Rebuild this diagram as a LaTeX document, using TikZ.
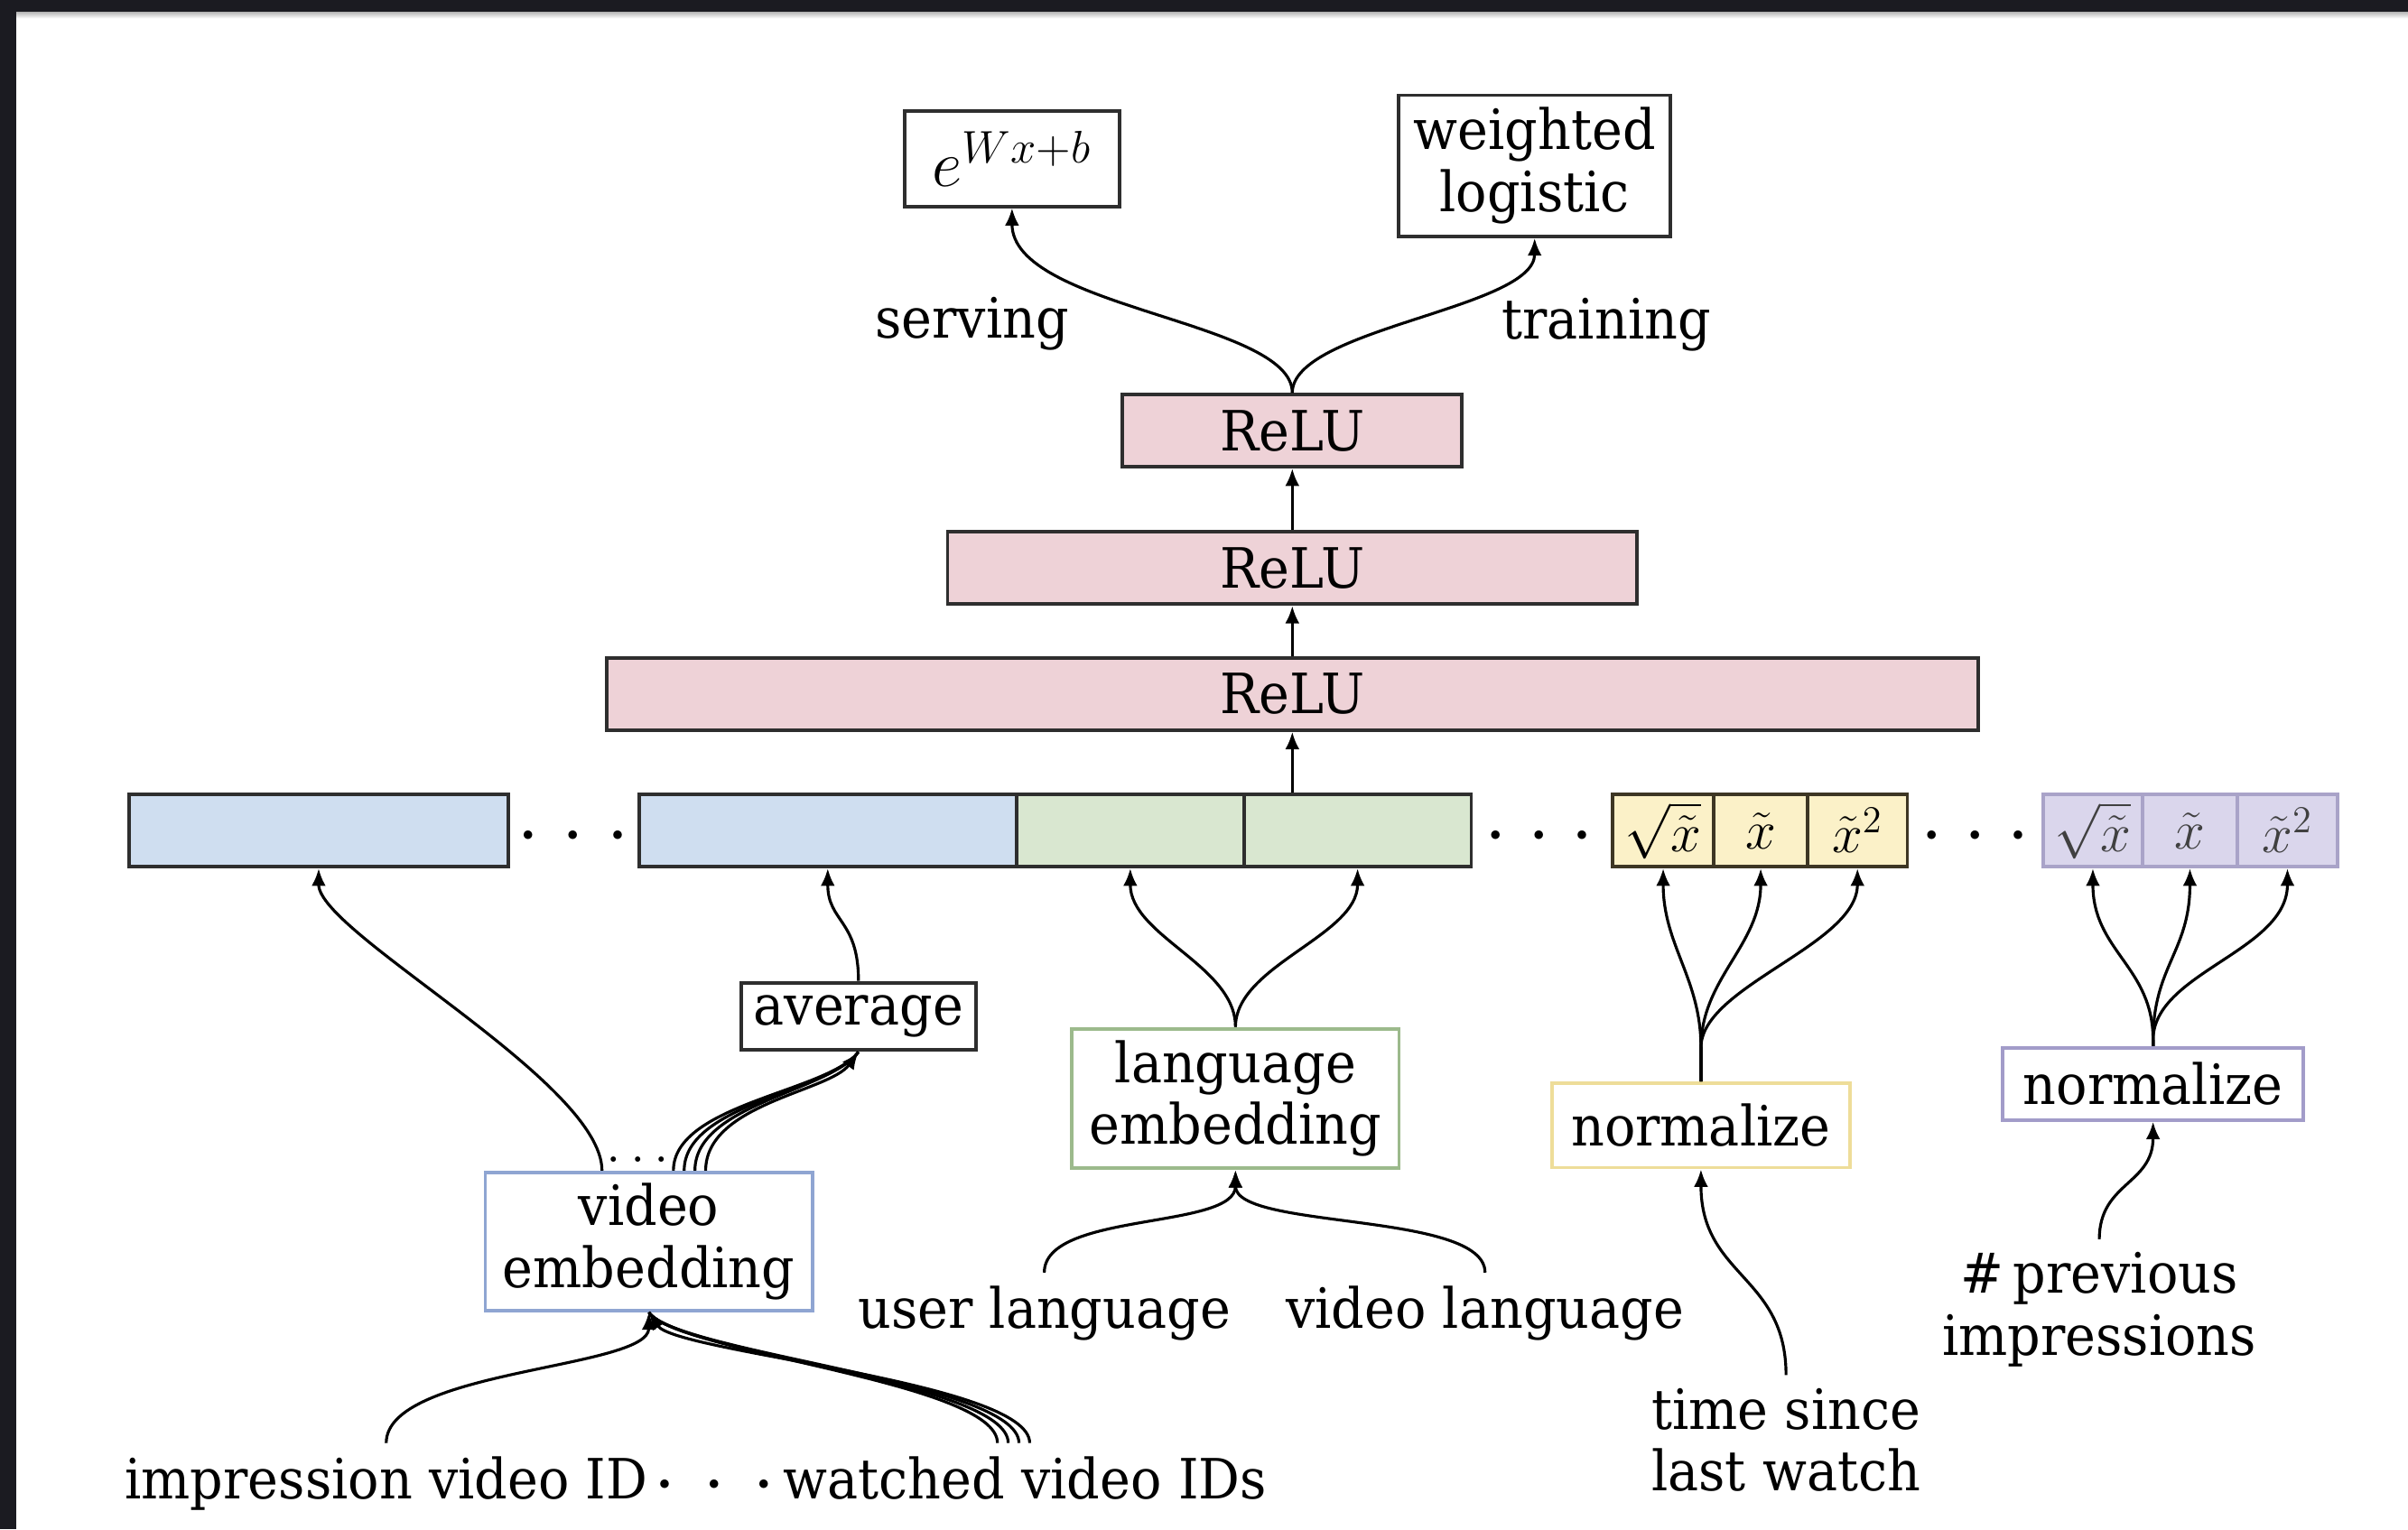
\documentclass[tikz,border=0pt]{standalone}
\usepackage{fontspec}
\setmainfont[FakeStretch=0.93]{DejaVu Serif}
\usetikzlibrary{arrows.meta,calc}
\def\uu{0.017009cm}
\definecolor{dk}{HTML}{1B1B21}
\definecolor{bluef}{HTML}{CFDEF0}
\definecolor{greenf}{HTML}{D9E7D0}
\definecolor{yellowf}{HTML}{FBF1C8}
\definecolor{purplef}{HTML}{DAD6EC}
\definecolor{pinkf}{HTML}{EED2D7}
\definecolor{bordk}{HTML}{2E2E2E}
\definecolor{yelbd}{HTML}{3D3624}
\definecolor{purbd}{HTML}{A9A3C8}
\definecolor{vembd}{HTML}{8FA5D2}
\definecolor{lembd}{HTML}{9CBA8C}
\definecolor{nybd}{HTML}{EEDD99}
\definecolor{npbd}{HTML}{A29CC9}
\begin{document}
\begin{tikzpicture}[x={(0.017009cm,0cm)}, y={(0cm,-0.017009cm)},
  every node/.style={font=\fontsize{17.5}{19.5}\selectfont},
  arr/.style={line width=0.9pt, -{Latex[length=5.5pt,width=4.5pt]}},
  ln/.style={line width=0.9pt},
  cell/.style={draw=bordk, line width=1.1pt, minimum height=47*\uu, inner sep=0pt},
  mcell/.style={cell, font=\fontsize{17}{18}\selectfont},
  box/.style={draw=bordk, line width=1.1pt, inner sep=0pt, align=center},
  lab/.style={inner sep=4pt, align=center},
  dotsn/.style={inner sep=0pt, anchor=base, font=\fontsize{6}{6}\selectfont},
]
\useasboundingbox (0,0) rectangle (1568,996);
\fill[white] (0,0) rectangle (1568,996);
\shade[top color=black!30, bottom color=white] (10.6,7.6) rectangle (1568,12);
\fill[dk] (0,0) rectangle (1568,7.6);
\fill[dk] (0,0) rectangle (10.6,996);

% output boxes
\node[box, minimum width=140*\uu, minimum height=62*\uu, font=\fontsize{21}{22}\selectfont] (serve) at (659,103.4) {\raisebox{-3pt}{$e^{Wx+b}$}};
\node[box, minimum width=177*\uu, minimum height=92*\uu] (train) at (999.3,108) {weighted\\logistic};
\node[lab, anchor=base] (servl) at (633,220) {serving};
\node[lab, anchor=base] (trainl) at (1046,221) {training};

% ReLU layers
\node[cell, fill=pinkf, minimum width=221*\uu] (relu1) at (841.5,280.5) {ReLU};
\node[cell, fill=pinkf, minimum width=449*\uu] (relu2) at (841.5,370) {ReLU};
\node[cell, fill=pinkf, minimum width=893*\uu] (relu3) at (841.5,452) {\raisebox{-2pt}{ReLU}};

% concatenated layer
\node[cell, fill=bluef, minimum width=247*\uu] (b1) at (207.5,541) {};
\node[dotsn] (d1) at (373,547) {${\bullet}\hspace{10.3pt}{\bullet}\hspace{10.3pt}{\bullet}$};
\node[cell, fill=bluef, minimum width=246*\uu] (b2) at (539,541) {};
\node[cell, fill=greenf, minimum width=148*\uu] (g1) at (736,541) {};
\node[cell, fill=greenf, minimum width=148*\uu] (g2) at (884,541) {};
\node[dotsn] (d2) at (1002,547) {${\bullet}\hspace{9.8pt}{\bullet}\hspace{9.8pt}{\bullet}$};
\node[mcell, fill=yellowf, draw=yelbd, minimum width=66*\uu] (y1) at (1083,541) {$\sqrt{\tilde{x}}$};
\node[mcell, fill=yellowf, draw=yelbd, minimum width=61*\uu] (y2) at (1146.5,541) {$\tilde{x}$};
\node[mcell, fill=yellowf, draw=yelbd, minimum width=65*\uu] (y3) at (1209.5,541) {$\tilde{x}^2$};
\node[dotsn] (d3) at (1286,547) {${\bullet}\hspace{9.8pt}{\bullet}\hspace{9.8pt}{\bullet}$};
\node[mcell, fill=purplef, draw=purbd, text=black!75, minimum width=64.6*\uu] (p1) at (1362.8,541) {$\sqrt{\tilde{x}}$};
\node[mcell, fill=purplef, draw=purbd, text=black!75, minimum width=61.8*\uu] (p2) at (1426,541) {$\tilde{x}$};
\node[mcell, fill=purplef, draw=purbd, text=black!75, minimum width=65.2*\uu] (p3) at (1489.5,541) {$\tilde{x}^2$};

% intermediate boxes
\node[box, minimum width=153*\uu, minimum height=44*\uu] (avg) at (559,662) {average};
\node[box, draw=vembd, minimum width=213*\uu, minimum height=90*\uu] (vemb) at (422.5,808.6) {video\\embedding};
\node[box, draw=lembd, minimum width=213*\uu, minimum height=91*\uu] (lemb) at (804.5,715.5) {language\\embedding};
\node[box, draw=nybd, minimum width=194*\uu, minimum height=55*\uu] (ny) at (1107.6,733) {normalize};
\node[box, draw=npbd, minimum width=196*\uu, minimum height=47*\uu] (np) at (1402,706) {normalize};
\node[inner sep=0pt, anchor=base, font=\fontsize{16}{16}\selectfont] (vdots) at (415.5,757) {$\ldots$};

% input labels
\node[lab, anchor=base] (ulang) at (680,865) {user language};
\node[lab, anchor=base] (vlang) at (967,865) {video language};
\node[lab] (prev) at (1367,853) {\#\,previous\\impressions};
\node[lab] (time) at (1163,938) {time since\\last watch};
\node[lab, anchor=base] (imp) at (251.5,976) {impression video ID};
\node[dotsn] (d4) at (465,970) {${\bullet}\hspace{11.8pt}{\bullet}\hspace{11.8pt}{\bullet}$};
\node[lab, anchor=base] (watched) at (667.5,976) {watched video IDs};

% connectors: top
\draw[arr] (relu1.north) .. controls +(0,-47) and +(0,65.5) .. (serve.south);
\draw[arr] (relu1.north) .. controls +(0,-42) and +(0,46) .. (train.south);
\draw[arr] (relu2.north) -- (relu1.south);
\draw[arr] (relu3.north) -- (relu2.south);
\draw[arr] (relu3.south |- g2.north) -- (relu3.south);

% video embedding
\draw[arr] ($(vemb.north)+(-30.5,0)$) .. controls +(0,-58) and +(0,42) .. (b1.south);
\foreach \dx in {16,23,30} {
  \draw[ln] ($(vemb.north)+(\dx,0)$) .. controls +(0,-43.6) and +(-19,26) .. (avg.south);
}
\draw[arr] ($(vemb.north)+(37,0)$) .. controls +(0,-43.6) and +(-19,26) .. (avg.south);
\draw[arr] (avg.north) .. controls +(0,-40) and +(0,35) .. (b2.south);
\draw[arr] (imp.north) .. controls +(0,-48) and +(0,37) .. (vemb.south);
\foreach \dx in {-18,-11,-4} {
  \draw[ln] ($(watched.north)+(\dx,0)$) .. controls +(0,-40) and +(17.5,26.5) .. (vemb.south);
}
\draw[arr] ($(watched.north)+(3,0)$) .. controls +(0,-40) and +(17.5,26.5) .. (vemb.south);

% language embedding
\draw[arr] (lemb.north) .. controls +(0,-40) and +(0,44) .. (g1.south);
\draw[arr] (lemb.north) .. controls +(0,-40) and +(0,44) .. (g2.south);
\draw[arr] (ulang.north) .. controls +(0,-40) and +(0,39) .. (lemb.south);
\draw[arr] (vlang.north) .. controls +(0,-40) and +(0,39) .. (lemb.south);

% time since last watch
\draw[arr] (ny.north) -- ++(0,-22) .. controls +(0,-45) and +(0,50) .. (y1.south);
\draw[arr] (ny.north) -- ++(0,-22) .. controls +(0,-45) and +(0,50) .. (y2.south);
\draw[arr] (ny.north) -- ++(0,-22) .. controls +(0,-40) and +(0,50) .. (y3.south);
\draw[arr] (time.north) .. controls +(0,-65) and +(0,70) .. (ny.south);

% previous impressions
\draw[arr] (np.north) -- ++(0,-4) .. controls +(0,-48) and +(0,54) .. (p1.south);
\draw[arr] (np.north) -- ++(0,-4) .. controls +(0,-48) and +(0,54) .. (p2.south);
\draw[arr] (np.north) -- ++(0,-4) .. controls +(0,-44) and +(0,54) .. (p3.south);
\draw[arr] (prev.north) .. controls +(0,-37) and +(0,41) .. (np.south);
\end{tikzpicture}
\end{document}
